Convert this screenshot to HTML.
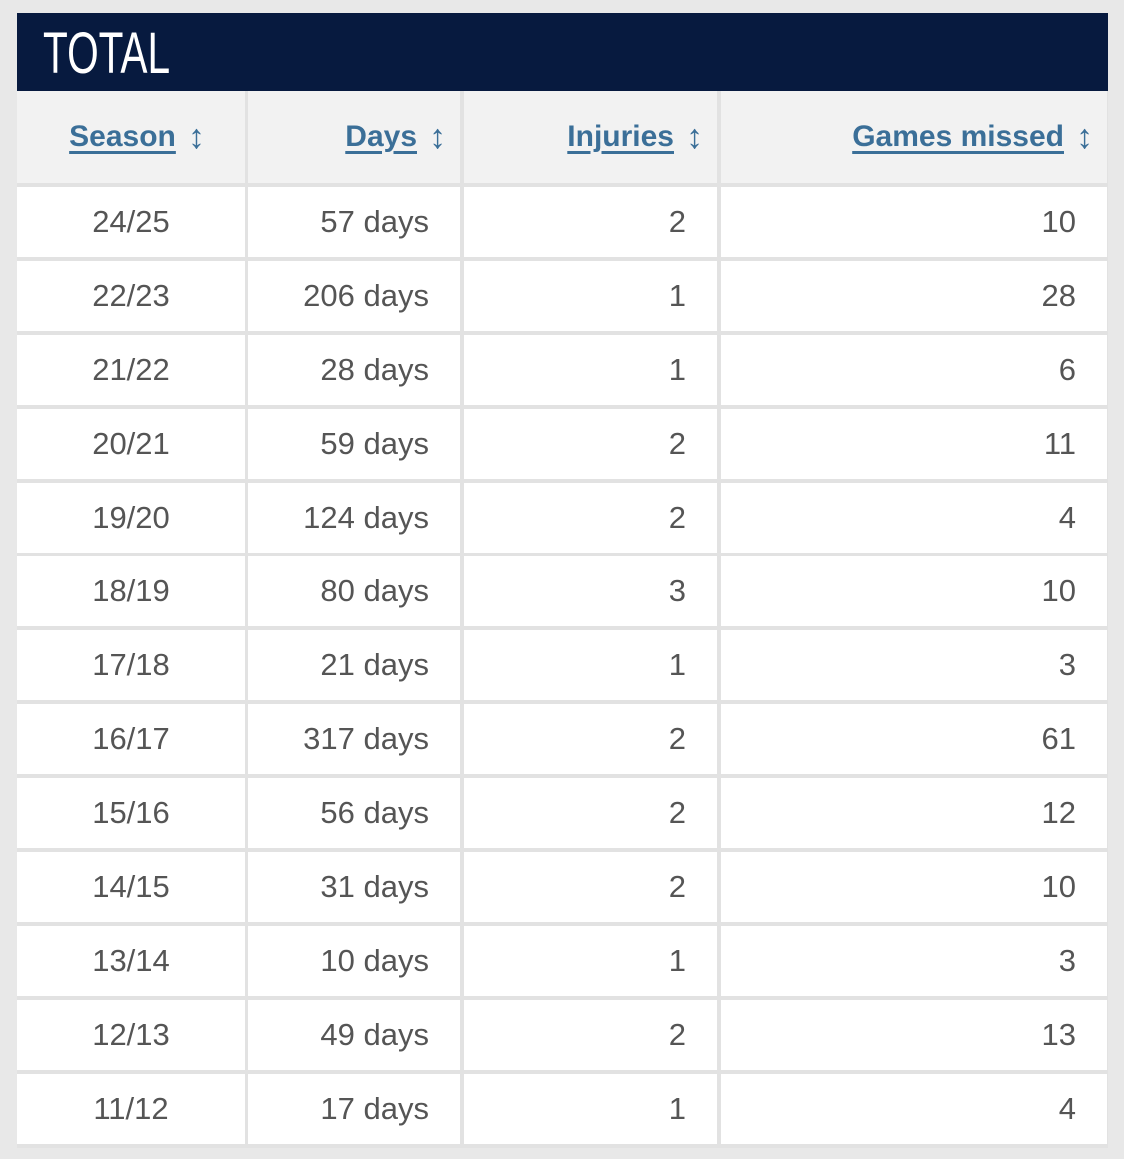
<!DOCTYPE html>
<html><head><style>
body{margin:0;width:1124px;height:1159px;background:#e8e8e8;position:relative;overflow:hidden;font-family:"Liberation Sans",sans-serif}
.tbl{position:absolute;left:17px;top:13px;width:1091px;height:1135px;background:#e2e2e2}
.title{position:absolute;left:17px;top:13px;width:1091px;height:78px;background:#071a3f;color:#fff}
.title span{position:absolute;left:26px;top:8px;font-size:58px;transform:scaleX(0.7);transform-origin:left top;line-height:66px}
.c{position:absolute;box-sizing:border-box;font-size:31px;color:#555;display:flex;align-items:center;height:70px}
.h{background:#f2f2f2;color:#3b6f98;font-weight:bold;font-size:30px;top:91px;height:92px}
.h u{text-decoration-thickness:3px;text-underline-offset:5px}
.ar{font-weight:normal;font-size:34px;margin-left:12px;color:#3b6f98}
.w{background:#fff}
.a{left:17px;width:228px;justify-content:center}
.b{left:248px;width:212px;justify-content:flex-end;padding-right:31px}
.d{left:464px;width:253px;justify-content:flex-end;padding-right:31px}
.e{left:721px;width:386px;justify-content:flex-end;padding-right:31px}
.h.a{padding-left:12px}
.h.b,.h.d,.h.e{padding-right:14px}
</style></head><body>
<div class="tbl"></div>
<div class="title"><span>TOTAL</span></div>
<div class="c h a"><u>Season</u><span class="ar">↕</span></div>
<div class="c h b"><u>Days</u><span class="ar">↕</span></div>
<div class="c h d"><u>Injuries</u><span class="ar">↕</span></div>
<div class="c h e"><u>Games missed</u><span class="ar">↕</span></div>

<div class="c w a" style="top:187px">24/25</div><div class="c w b" style="top:187px">57 days</div><div class="c w d" style="top:187px">2</div><div class="c w e" style="top:187px">10</div>
<div class="c w a" style="top:261px">22/23</div><div class="c w b" style="top:261px">206 days</div><div class="c w d" style="top:261px">1</div><div class="c w e" style="top:261px">28</div>
<div class="c w a" style="top:335px">21/22</div><div class="c w b" style="top:335px">28 days</div><div class="c w d" style="top:335px">1</div><div class="c w e" style="top:335px">6</div>
<div class="c w a" style="top:409px">20/21</div><div class="c w b" style="top:409px">59 days</div><div class="c w d" style="top:409px">2</div><div class="c w e" style="top:409px">11</div>
<div class="c w a" style="top:483px">19/20</div><div class="c w b" style="top:483px">124 days</div><div class="c w d" style="top:483px">2</div><div class="c w e" style="top:483px">4</div>
<div class="c w a" style="top:556px">18/19</div><div class="c w b" style="top:556px">80 days</div><div class="c w d" style="top:556px">3</div><div class="c w e" style="top:556px">10</div>
<div class="c w a" style="top:630px">17/18</div><div class="c w b" style="top:630px">21 days</div><div class="c w d" style="top:630px">1</div><div class="c w e" style="top:630px">3</div>
<div class="c w a" style="top:704px">16/17</div><div class="c w b" style="top:704px">317 days</div><div class="c w d" style="top:704px">2</div><div class="c w e" style="top:704px">61</div>
<div class="c w a" style="top:778px">15/16</div><div class="c w b" style="top:778px">56 days</div><div class="c w d" style="top:778px">2</div><div class="c w e" style="top:778px">12</div>
<div class="c w a" style="top:852px">14/15</div><div class="c w b" style="top:852px">31 days</div><div class="c w d" style="top:852px">2</div><div class="c w e" style="top:852px">10</div>
<div class="c w a" style="top:926px">13/14</div><div class="c w b" style="top:926px">10 days</div><div class="c w d" style="top:926px">1</div><div class="c w e" style="top:926px">3</div>
<div class="c w a" style="top:1000px">12/13</div><div class="c w b" style="top:1000px">49 days</div><div class="c w d" style="top:1000px">2</div><div class="c w e" style="top:1000px">13</div>
<div class="c w a" style="top:1074px">11/12</div><div class="c w b" style="top:1074px">17 days</div><div class="c w d" style="top:1074px">1</div><div class="c w e" style="top:1074px">4</div>
</body></html>
